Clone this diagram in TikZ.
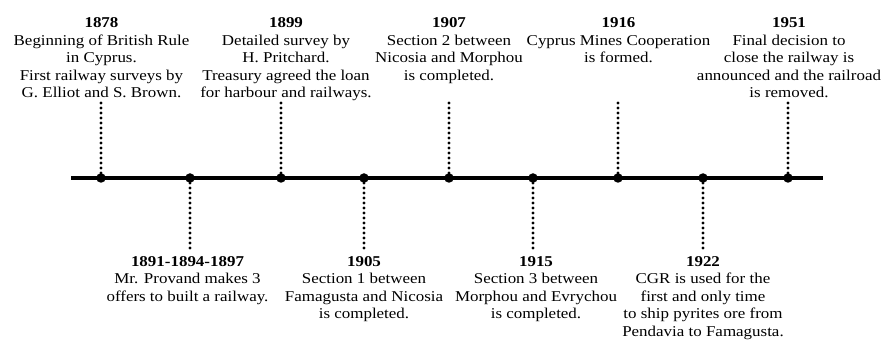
\documentclass[tikz,border=0pt]{standalone}
\usepackage{fontspec}
\setmainfont{Liberation Serif}
% text of the reference is set a little wide
\newcommand{\widetext}[1]{\scalebox{1.13}[1]{\begin{tabular}{@{}c@{}}#1\end{tabular}}}
\tikzset{
  event/.style={anchor=north,inner sep=0pt,font=\fontsize{15}{17.5}\selectfont},
  dotline/.style={line width=3.3pt,line cap=round,dash pattern=on 0pt off 5pt},
  stop/.style={circle,fill=black,inner sep=0pt,minimum size=9.5pt}
}
\begin{document}
\begin{tikzpicture}[x=1pt,y=1pt]
\useasboundingbox (0,0) rectangle (884,340);
% time axis
\coordinate (axisL) at (71,162);
\coordinate (axisR) at (823,162);
\draw[line width=3.5pt] (axisL) -- (axisR);

\node (p1) at (101,162) [stop]{};
\node (p2) at (190,162) [stop]{};
\node (p3) at (281,162) [stop]{};
\node (p4) at (364,162) [stop]{};
\node (p5) at (449,162) [stop]{};
\node (p6) at (533,162) [stop]{};
\node (p7) at (618,162) [stop]{};
\node (p8) at (703,162) [stop]{};
\node (p9) at (788,162) [stop]{};

% events above the axis
\node (t1) at (101.5,324.5) [event]{\widetext{\textbf{1878}\\Beginning of British Rule\\in Cyprus.\\First railway surveys by\\G. Elliot and S. Brown.}};
\node (t3) at (286,324.5) [event]{\widetext{\textbf{1899}\\Detailed survey by\\H. Pritchard.\\Treasury agreed the loan\\for harbour and railways.}};
\node (t5) at (449,324.5) [event]{\widetext{\textbf{1907}\\Section 2 between\\Nicosia and Morphou\\is completed.}};
\node (t7) at (618.5,324.5) [event]{\widetext{\textbf{1916}\\Cyprus Mines Cooperation\\is formed.}};
\node (t9) at (789,324.5) [event]{\widetext{\textbf{1951}\\Final decision to\\close the railway is\\announced and the railroad\\is removed.}};

% events below the axis
\node (t2) at (187.5,86) [event]{\widetext{\textbf{1891-1894-1897}\\Mr. Provand makes 3\\offers to built a railway.}};
\node (t4) at (364,86) [event]{\widetext{\textbf{1905}\\Section 1 between\\Famagusta and Nicosia\\is completed.}};
\node (t6) at (536,86) [event]{\widetext{\textbf{1915}\\Section 3 between\\Morphou and Evrychou\\is completed.}};
\node (t8) at (703,86) [event]{\widetext{\textbf{1922}\\CGR is used for the\\first and only time\\to ship pyrites ore from\\Pendavia to Famagusta.}};

% dotted stems
\coordinate (e1) at (101,237);
\coordinate (e3) at (281,237);
\coordinate (e5) at (449,237);
\coordinate (e7) at (618,237);
\coordinate (e9) at (788,237);
\coordinate (e2) at (190,89);
\coordinate (e4) at (364,89);
\coordinate (e6) at (533,89);
\coordinate (e8) at (703,89);
\draw[dotline] (p1) -- (e1);
\draw[dotline] (p3) -- (e3);
\draw[dotline] (p5) -- (e5);
\draw[dotline] (p7) -- (e7);
\draw[dotline] (p9) -- (e9);
\draw[dotline] (p2) -- (e2);
\draw[dotline] (p4) -- (e4);
\draw[dotline] (p6) -- (e6);
\draw[dotline] (p8) -- (e8);
\end{tikzpicture}
\end{document}
